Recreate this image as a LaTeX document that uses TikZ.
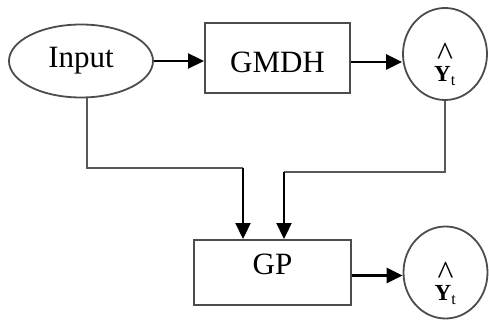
\documentclass[tikz,border=0pt]{standalone}
\usepackage{fontspec}
\setmainfont{Liberation Serif}
\usetikzlibrary{arrows.meta,shapes.geometric}
\tikzset{
	block/.style={draw=black!70, line width=2pt, rectangle, inner sep=0pt, font=\fontsize{31}{36}\selectfont},
	oval/.style={draw=black!70, line width=1.8pt, ellipse, inner sep=0pt, font=\fontsize{31}{36}\selectfont},
	outc/.style={draw=black!70, line width=1.8pt, ellipse, inner sep=0pt, minimum width=84pt, minimum height=92pt, font=\fontsize{23}{20}\selectfont},
	wire/.style={draw=black!65, line width=2.3pt},
	arr/.style={draw=black, line width=2.3pt, -{Triangle[length=16pt,width=15pt]}}
}
\newcommand{\yhat}{\raisebox{-28pt}[0pt][0pt]{\shortstack{{\fontsize{34}{20}\selectfont\symbol{94}}\\[-2pt]\textbf{Y}\textsubscript{t}}}}
\begin{document}
\begin{tikzpicture}[x=1pt, y=-1pt]
			%%%%% START %%%%%
			\useasboundingbox (0, 0) rectangle (489, 320);
			
			\node[oval, minimum width=144pt, minimum height=73pt] (input) at (81, 61) {Input};
			\node[block, minimum width=145pt, minimum height=70pt, text height=30pt, text depth=0pt] (gmdh) at (277.5, 58) {GMDH};
			\node[outc] (yt) at (445, 54) {\yhat};
			
			\node[block, minimum width=157pt, minimum height=65pt, text height=20pt, text depth=16pt] (gp) at (272.5, 272.5) {GP};
			\node[outc] (ytgp) at (445.5, 272.5) {\yhat};
			
			\draw[arr] (input.east) -- (input.east -| gmdh.west);
			\draw[arr] ([yshift=-4pt]gmdh.east) -- ([yshift=-4pt]gmdh.east -| yt.west);
			
			\coordinate (j1) at (243, 168);
			\coordinate (j2) at (284, 172);
			\draw[wire] ([xshift=6pt]input.south) |- (j1);
			\draw[arr] (j1) -- (j1 |- gp.north);
			\draw[wire] (yt.south) |- (j2);
			\draw[arr] (j2) -- (j2 |- gp.north);
			
			\draw[arr] ([yshift=-3pt]gp.east) -- ([yshift=-3pt]gp.east -| ytgp.west);
			%%%%% END %%%%%
\end{tikzpicture}
\end{document}
